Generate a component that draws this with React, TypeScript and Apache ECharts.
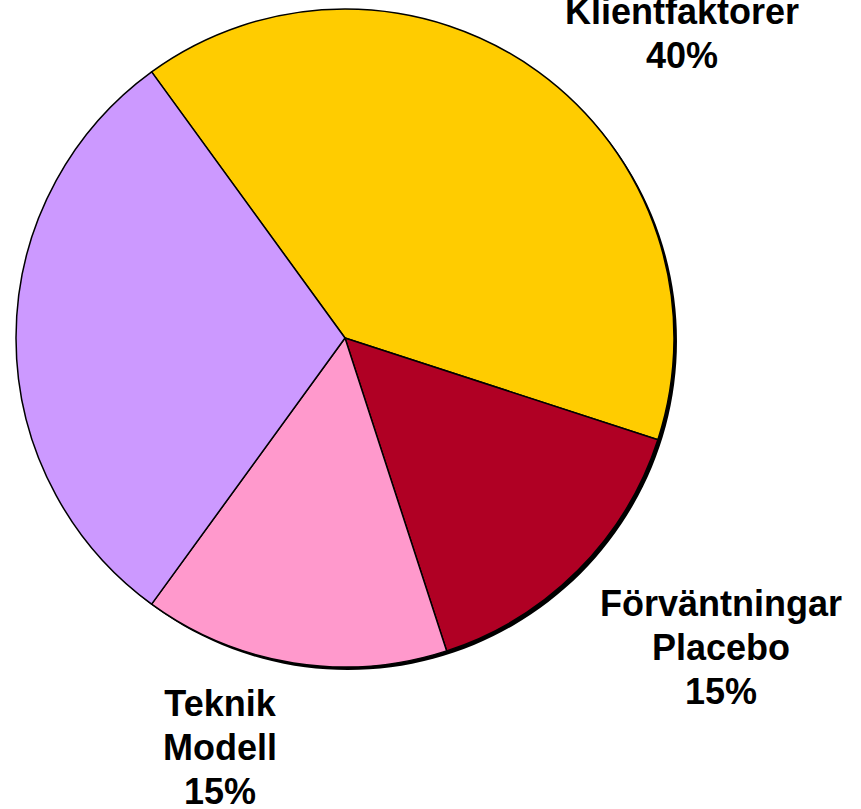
import React, { useEffect, useRef } from "react";
import * as echarts from "echarts";

const categories = ["Klientfaktorer", "Förväntningar\nPlacebo", "Teknik\nModell", "Relation"];
const values = [40, 15, 15, 30];
const colors = ["#FFCC00", "#B00024", "#FF99CC", "#CC99FF"];
const showLabel = [true, true, true, false];
const labelPos: [number, number][] = [
  [682, 33],
  [721, 647],
  [220, 747],
  [0, 0],
];

export default function App() {
  const ref = useRef<HTMLDivElement>(null);
  useEffect(() => {
    if (!ref.current) return;
    const chart = echarts.init(ref.current, null, { renderer: "svg" });
    const total = values.reduce((a, b) => a + b, 0);
    chart.setOption({
      animation: false,
      backgroundColor: "#ffffff",
      series: [
        {
          type: "pie",
          silent: true,
          center: [348, 341],
          radius: 329,
          label: { show: false },
          labelLine: { show: false },
          data: [{ value: total, name: "shadow", itemStyle: { color: "#000000" } }],
          z: 1,
        },
        {
          type: "pie",
          center: [345, 338],
          radius: 329,
          startAngle: 126,
          clockwise: true,
          avoidLabelOverlap: false,
          z: 2,
          itemStyle: { borderColor: "#000000", borderWidth: 1.5 },
          label: {
            show: true,
            position: "outside",
            fontFamily: "Liberation Sans, Arial, sans-serif",
            fontWeight: "bold",
            fontSize: 36,
            lineHeight: 44,
            color: "#000000",
            align: "center",
            formatter: (p: any) => `${p.name}\n${p.value}%`,
          },
          labelLine: { show: false },
          labelLayout: (p: any) => {
            const pos = labelPos[p.dataIndex];
            return { x: pos[0], y: pos[1], align: "center", verticalAlign: "middle" };
          },
          data: categories.map((c, i) => ({
            name: c,
            value: values[i],
            itemStyle: { color: colors[i] },
            label: { show: showLabel[i] },
          })),
        },
      ],
    });
    return () => chart.dispose();
  }, []);
  return (
    <div
      ref={ref}
      style={{ position: "fixed", left: 0, top: 0, width: 861, height: 809 }}
    />
  );
}
